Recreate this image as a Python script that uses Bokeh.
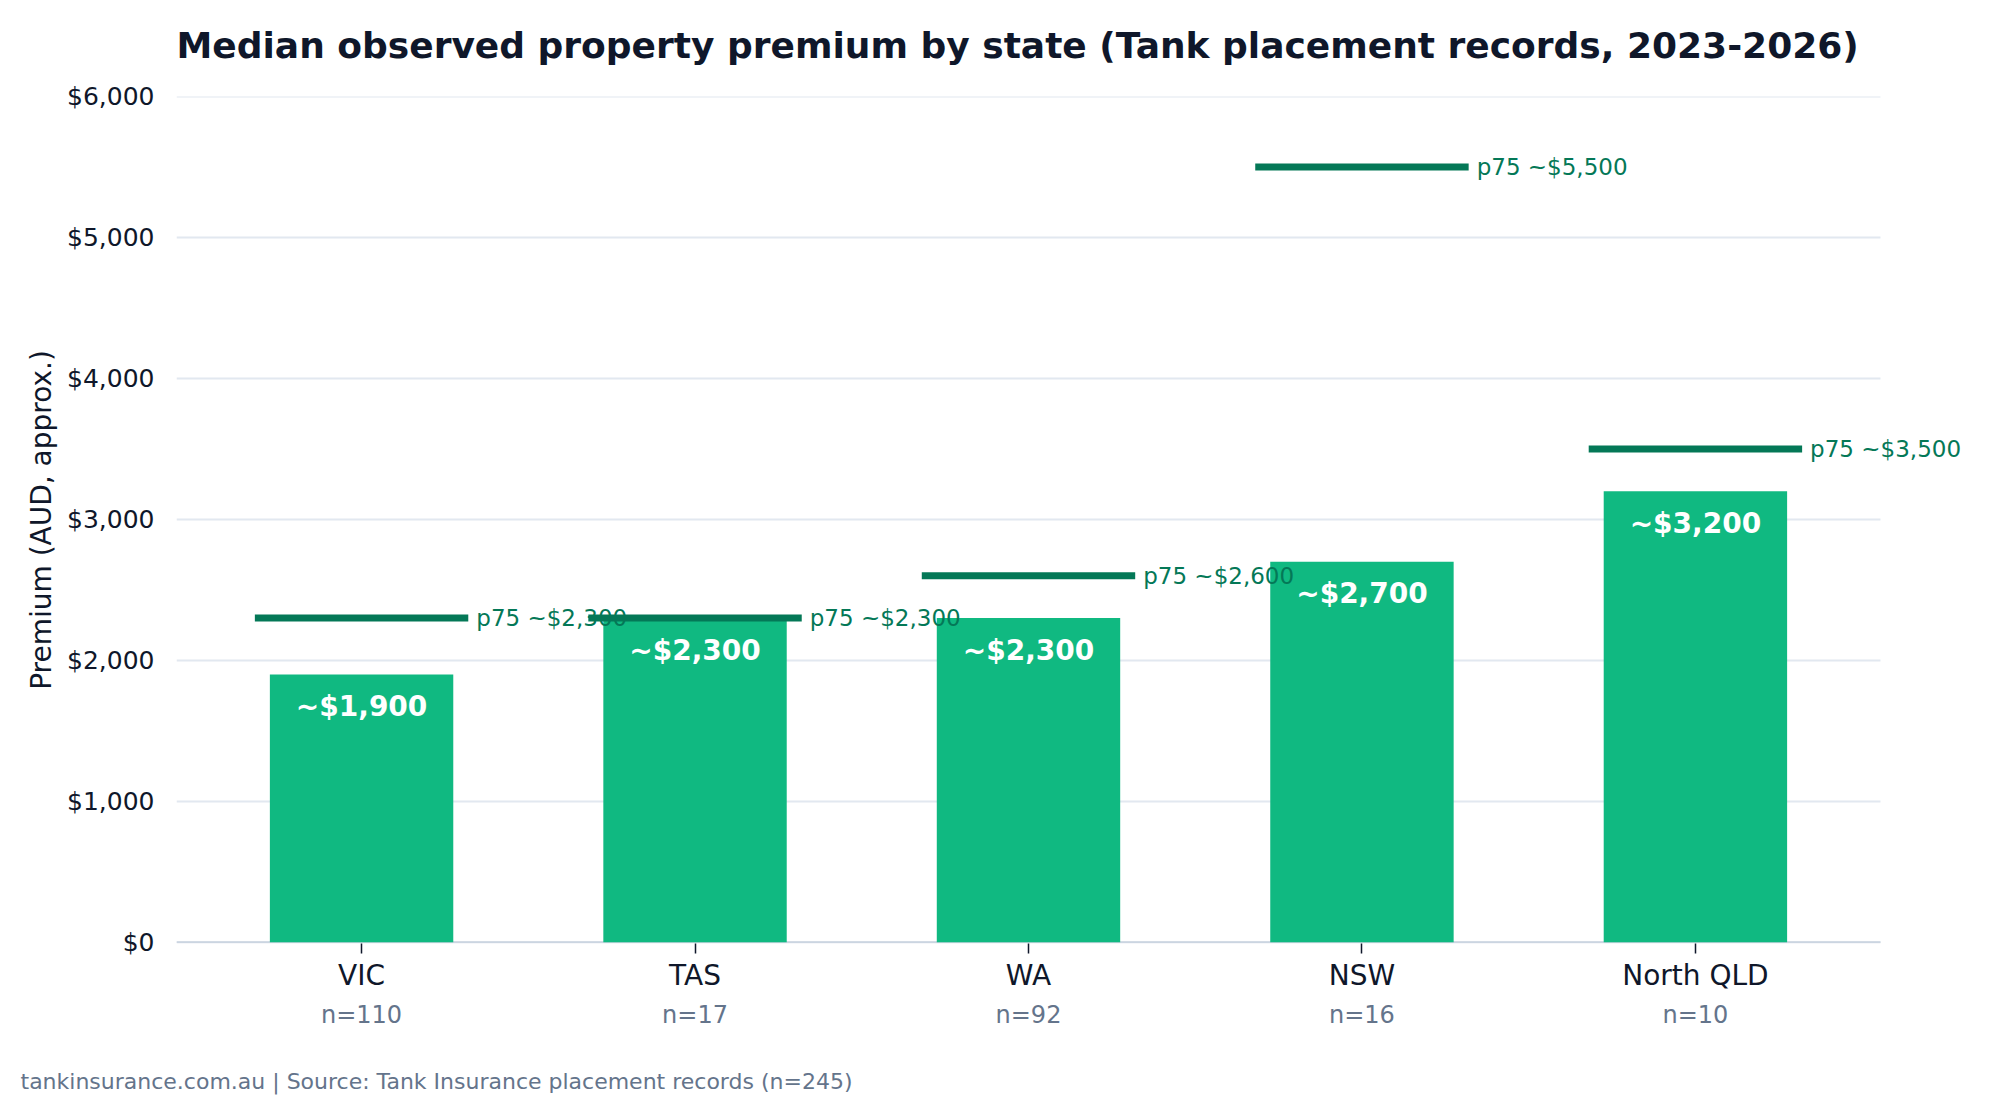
from bokeh.plotting import figure
from bokeh.models import (ColumnDataSource, Label, LinearAxis, FixedTicker,
                          NumeralTickFormatter, Range1d, Title)
from bokeh.core.properties import value
from bokeh.embed import file_html
from bokeh.resources import INLINE

# ---- data ----
states = ["VIC", "TAS", "WA", "NSW", "North QLD"]
sample_sizes = [110, 17, 92, 16, 10]
median_premium = [1900, 2300, 2300, 2700, 3200]
p75_premium = [2300, 2300, 2600, 5500, 3500]
y_ticks = [0, 1000, 2000, 3000, 4000, 5000, 6000]

FONT = "DejaVu Sans"
BAR = "#10b981"
DARK_GREEN = "#047857"
INK = "#0f172a"
MUTED = "#64748b"
GRID = "#e2e8f0"
SPINE = "#cbd5e1"

# layout (pixels)
W, H = 1990, 1098
LEFT, TOP, BOTTOM = 176, 96, 943
PX_PER_UNIT = 333.46
XMIN, XMAX = -0.555, 4.555          # extent of the visible axes area
frame_w = W - LEFT
x_end = XMIN + frame_w / PX_PER_UNIT  # frame extends right so labels are not clipped

idx = list(range(len(states)))
half = 0.32
src = ColumnDataSource(dict(
    x=idx,
    median=median_premium,
    p75=p75_premium,
    x0=[i - half for i in idx],
    x1=[i + half for i in idx],
    med_label=[f"~${v:,}" for v in median_premium],
))
grid_src = ColumnDataSource(dict(y=y_ticks, x0=[XMIN] * len(y_ticks), x1=[XMAX] * len(y_ticks)))

p = figure(width=W, height=H, output_backend="svg", toolbar_location=None,
           x_range=Range1d(XMIN, x_end), y_range=Range1d(-8, 6000),
           min_border_left=LEFT, min_border_right=0, min_border_top=TOP,
           min_border_bottom=H - BOTTOM)
p.outline_line_color = None
p.background_fill_color = "white"
p.border_fill_color = "white"
p.xgrid.grid_line_color = None
p.ygrid.grid_line_color = None

xax = p.xaxis[0]   # the default bottom axis (state names)
yax = p.yaxis[0]


def spacer(size):
    """An invisible axis that only reserves space in a side panel."""
    ax = LinearAxis(ticker=FixedTicker(ticks=[idx[0]]),
                    major_label_overrides={idx[0]: ""})
    ax.axis_line_color = None
    ax.major_tick_line_color = None
    ax.minor_tick_line_color = None
    ax.major_tick_in = 0
    ax.major_tick_out = size
    ax.minor_tick_in = 0
    ax.minor_tick_out = 0
    ax.major_label_standoff = 0
    ax.major_label_text_font_size = "1px"
    ax.major_label_text_alpha = 0
    return ax


# title (space between title and frame reserved by a spacer axis)
p.add_layout(spacer(31), "above")
p.title.text = "Median observed property premium by state (Tank placement records, 2023-2026)"
p.title.align = "left"
p.title.text_font = FONT
p.title.text_font_size = "36px"
p.title.text_font_style = "bold"
p.title.text_color = INK
p.title.standoff = 0

# horizontal grid and bottom spine (limited to the axes area)
p.segment(x0="x0", x1="x1", y0="y", y1="y", source=grid_src,
          line_color=GRID, line_width=2)
p.segment(x0=XMIN, x1=XMAX, y0=0, y1=0, line_color=SPINE, line_width=2)

# bars
p.vbar(x="x", top="median", bottom=0, width=0.55, source=src,
       fill_color=BAR, line_color=None)

# p75 markers (drawn above the labels)
p.segment(x0="x0", x1="x1", y0="p75", y1="p75", source=src,
          line_color=DARK_GREEN, line_width=7, line_cap="butt", level="overlay")

# median labels inside bars
p.text(x="x", y="median", text="med_label", source=src,
       text_align="center", text_baseline="middle", y_offset=32,
       text_color="white", text_font=value(FONT), text_font_style="bold",
       text_font_size="28px")

# p75 labels
for xi, v in zip(src.data["x1"], p75_premium):
    p.add_layout(Label(x=xi, y=v, x_offset=8, text=f"p75 ~${v:,}",
                       text_align="left", text_baseline="middle",
                       text_color=DARK_GREEN, text_font=FONT,
                       text_font_size="23px"))

# y axis
yax.ticker = FixedTicker(ticks=y_ticks)
yax.formatter = NumeralTickFormatter(format="$0,0")
yax.axis_line_color = None
yax.major_tick_line_color = None
yax.minor_tick_line_color = None
yax.major_tick_out = 0
yax.major_tick_in = 0
yax.major_label_standoff = 22
yax.major_label_text_font = FONT
yax.major_label_text_font_size = "25px"
yax.major_label_text_color = INK
yax.axis_label = "Premium (AUD, approx.)"
yax.axis_label_text_font = FONT
yax.axis_label_text_font_size = "28px"
yax.axis_label_text_font_style = "normal"
yax.axis_label_text_color = INK
yax.axis_label_standoff = 6

# x axis (state names)
xax.ticker = FixedTicker(ticks=idx)
xax.major_label_overrides = {i: s for i, s in zip(idx, states)}
xax.axis_line_color = None
xax.major_tick_line_color = INK
xax.major_tick_line_width = 1.5
xax.major_tick_out = 10
xax.major_tick_in = 0
xax.minor_tick_line_color = None
xax.major_label_standoff = 5
xax.major_label_text_font = FONT
xax.major_label_text_font_size = "28px"
xax.major_label_text_color = INK

# second x axis (sample sizes)
nax = LinearAxis(ticker=FixedTicker(ticks=idx),
                 major_label_overrides={i: f"n={n}" for i, n in zip(idx, sample_sizes)})
nax.axis_line_color = None
nax.major_tick_line_color = None
nax.minor_tick_line_color = None
nax.major_tick_out = 0
nax.major_tick_in = 0
nax.major_label_standoff = 6
nax.major_label_text_font = FONT
nax.major_label_text_font_size = "24px"
nax.major_label_text_color = MUTED
p.add_layout(nax, "below")

# space before the footer
p.add_layout(spacer(35), "below")

# footer
footer = Title(text="tankinsurance.com.au | Source: Tank Insurance placement records (n=245)",
               align="left", offset=20 - LEFT, text_font=FONT, text_font_size="22px",
               text_font_style="normal", text_color=MUTED, standoff=0)
p.add_layout(footer, "below")

open("out.html", "w").write(file_html(p, INLINE))
